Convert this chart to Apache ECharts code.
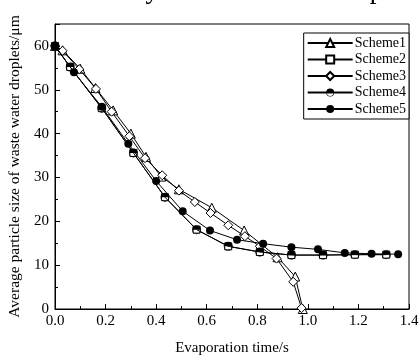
<!DOCTYPE html>
<html>
<head>
<meta charset="utf-8">
<script src="https://cdn.jsdelivr.net/npm/echarts@6/dist/echarts.min.js"></script>
<style>html,body{margin:0;padding:0;background:#fff}#c{width:420px;height:356px}</style>
</head>
<body>
<div id="c"></div>
<script>
var seriesNames = ['Scheme1', 'Scheme2', 'Scheme3', 'Scheme4', 'Scheme5'];
var xTicks = [0, 0.2, 0.4, 0.6, 0.8, 1.0, 1.2, 1.4];
var yTicks = [0, 10, 20, 30, 40, 50, 60];

var s1Time = [0, 0.03, 0.1, 0.16, 0.23, 0.3, 0.36, 0.42, 0.49, 0.62, 0.748, 0.88, 0.95, 0.98];
var s1Size = [60, 59.0, 54.8, 50.4, 45.3, 40.0, 34.7, 30.2, 27.3, 23.1, 17.9, 11.8, 7.4, 0];

var s2Time = [0, 0.06, 0.185, 0.31, 0.435, 0.56, 0.685, 0.81, 0.935, 1.06, 1.186, 1.31];
var s2Size = [60, 55.2, 45.8, 35.6, 25.5, 18.1, 14.3, 13.0, 12.3, 12.3, 12.4, 12.4];

var s3Time = [0, 0.03, 0.096, 0.162, 0.224, 0.294, 0.356, 0.424, 0.49, 0.553, 0.615, 0.685, 0.751, 0.81, 0.876, 0.942, 0.975];
var s3Size = [60, 58.9, 54.7, 50.2, 45.0, 39.4, 34.4, 30.5, 27.0, 24.4, 21.9, 19.1, 16.6, 14.3, 11.5, 6.2, 0.2];

var s4Time = [0, 0.06, 0.185, 0.31, 0.435, 0.56, 0.685, 0.81, 0.935, 1.06, 1.186, 1.31];
var s4Size = [60, 55.2, 45.8, 35.6, 25.5, 18.1, 14.3, 13.0, 12.3, 12.3, 12.4, 12.4];

var s5Time = [0, 0.075, 0.185, 0.29, 0.4, 0.505, 0.613, 0.72, 0.823, 0.935, 1.04, 1.146, 1.252, 1.357];
var s5Size = [60, 54.0, 46.1, 37.7, 29.2, 22.3, 17.9, 15.8, 14.9, 14.1, 13.6, 12.8, 12.6, 12.5];

function pairs(t, v) { return t.map(function (x, i) { return [x, v[i]]; }); }

var FONT = 'Liberation Serif';
var halfCircle = 'path://M0,10 A10,10 0 1,1 20,10 A10,10 0 1,1 0,10 Z M18.5,10 L1.5,10 A8.5,8.5 0 0,0 18.5,10 Z';

function mk(name, data, symbol, size, fill, z) {
  return {
    name: name, type: 'line', data: data, symbol: symbol, symbolSize: size,
    showAllSymbol: true, z: z,
    lineStyle: { color: '#000', width: 1 },
    itemStyle: { color: fill, borderColor: '#000', borderWidth: fill === '#fff' ? 1 : 0 },
    emphasis: { disabled: true }, animation: false
  };
}

var chart = echarts.init(document.getElementById('c'), null, { renderer: 'canvas' });
chart.setOption({
  animation: false,
  backgroundColor: '#fff',
  textStyle: { fontFamily: FONT, color: '#000' },
  graphic: [{
    type: 'text', left: -6, top: -23,
    style: { text: 'imulation of cyclonic basis and response', font: '27px "Liberation Serif"', fill: '#000' }
  }],
  grid: { left: 55, right: 11, top: 24, bottom: 47, show: true, borderColor: '#000', borderWidth: 1,
    containLabel: false, outerBoundsMode: 'none' },
  legend: {
    data: seriesNames, orient: 'vertical', right: 11, top: 33,
    itemWidth: 45, itemHeight: 10, itemGap: 2.5,
    borderColor: '#000', borderWidth: 1, padding: [3, 3, 3, 3],
    textStyle: { fontFamily: FONT, fontSize: 14, color: '#000', padding: [0, 0, 0, -3] },
    backgroundColor: '#fff'
  },
  xAxis: {
    type: 'value', min: 0, max: 1.4, interval: 0.2,
    name: 'Evaporation time/s', nameLocation: 'middle', nameGap: 32,
    nameTextStyle: { fontFamily: FONT, fontSize: 15, color: '#000' },
    axisLine: { lineStyle: { color: '#000', width: 1 } },
    axisTick: { inside: true, length: 5, lineStyle: { color: '#000' } },
    minorTick: { show: true, splitNumber: 2, length: 3, lineStyle: { color: '#000' } },
    splitLine: { show: false },
    axisLabel: { fontFamily: FONT, fontSize: 15, color: '#000', margin: 5,
      formatter: function (v) { return xTicks.indexOf(Math.round(v * 10) / 10) >= 0 ? v.toFixed(1) : ''; } }
  },
  yAxis: {
    type: 'value', min: 0, max: 65, interval: 10,
    name: 'Average particle size of waste water droplets/μm', nameLocation: 'middle', nameGap: 26,
    nameTextStyle: { fontFamily: FONT, fontSize: 15.5, color: '#000' },
    axisLine: { show: true, lineStyle: { color: '#000', width: 1 } },
    axisTick: { inside: true, length: 5, lineStyle: { color: '#000' } },
    minorTick: { show: true, splitNumber: 2, length: 3, lineStyle: { color: '#000' } },
    splitLine: { show: false },
    axisLabel: { fontFamily: FONT, fontSize: 15, color: '#000', margin: 6,
      formatter: function (v) { return yTicks.indexOf(v) >= 0 ? String(v) : ''; } }
  },
  series: [
    mk('Scheme1', pairs(s1Time, s1Size), 'triangle', 9, '#fff', 2),
    mk('Scheme2', pairs(s2Time, s2Size), 'rect', 7, '#fff', 3),
    mk('Scheme3', pairs(s3Time, s3Size), 'diamond', 9, '#fff', 4),
    mk('Scheme4', pairs(s4Time, s4Size), halfCircle, 9, '#000', 5),
    mk('Scheme5', pairs(s5Time, s5Size), 'circle', 8, '#000', 6)
  ]
});
</script>
</body>
</html>
